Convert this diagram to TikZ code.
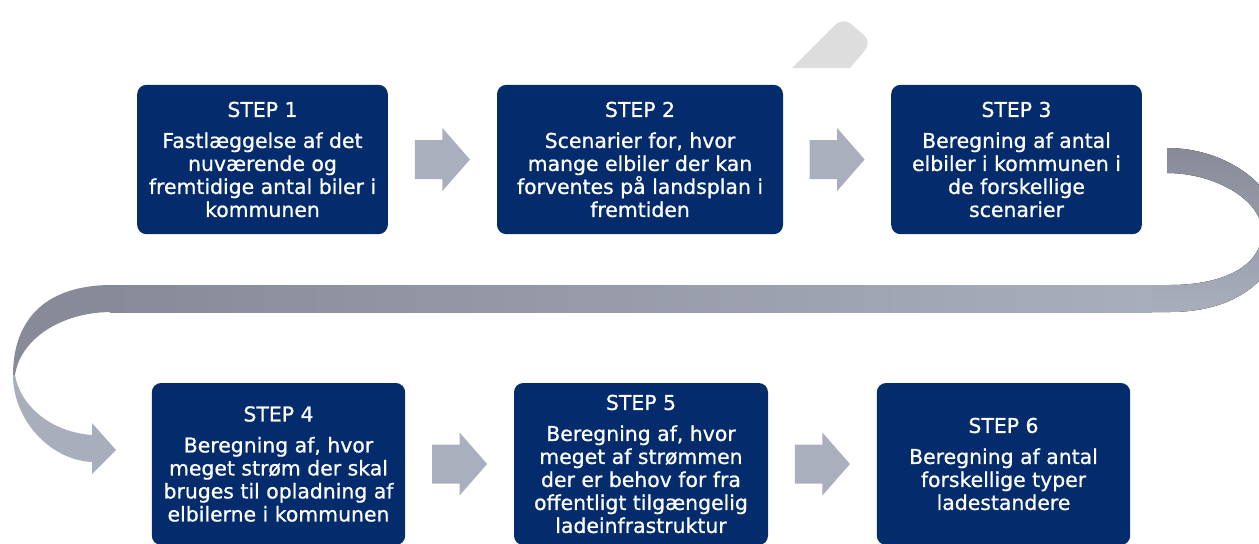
\documentclass[tikz,border=0pt]{standalone}
\usepackage{fontspec}
\setmainfont{DejaVu Sans}
\newfontfamily\stepfont{DejaVu Sans}[FakeBold=0.8]
\usetikzlibrary{calc}

\definecolor{stepblue}{RGB}{4,43,108}
\definecolor{arrowgrey}{RGB}{170,175,189}
\definecolor{ribbondark}{RGB}{136,139,151}
\definecolor{ribbonlight}{RGB}{169,174,189}
\definecolor{cutgrey}{RGB}{221,221,221}

\begin{document}
\begin{tikzpicture}[x={(0.75pt,0)}, y={(0,-0.75pt)},
    stepbox/.style={fill=stepblue, rounded corners=7pt, text=white, align=center,
        inner sep=0pt, font=\stepfont\fontsize{15.3}{17.25}\selectfont},
    blockarrow/.pic={\fill[arrowgrey] (-27.5,-19.5) -- (0,-19.5) -- (0,-31.5) -- (27.5,0)
        -- (0,31.5) -- (0,19.5) -- (-27.5,19.5) -- cycle;}]
        \clip (0,0) rectangle (1259,543);

        % Grey piece at the top
        \fill[cutgrey] (792,68) [rounded corners=8pt] -- (843,17) -- (872,42) [sharp corners] -- (850,68) -- cycle;

        % Top row
        \node[stepbox, minimum width=188pt, minimum height=112pt] (s1) at (262.5,159.5)
            {STEP 1\\[6pt]Fastlæggelse af det\\nuværende og\\fremtidige antal biler i\\kommunen};
        \node[stepbox, minimum width=214.5pt, minimum height=112pt] (s2) at (640,159.5)
            {STEP 2\\[6pt]Scenarier for, hvor\\mange elbiler der kan\\forventes på landsplan i\\fremtiden};
        \node[stepbox, minimum width=188pt, minimum height=112pt] (s3) at (1016.5,159.5)
            {STEP 3\\[6pt]Beregning af antal\\elbiler i kommunen i\\de forskellige\\scenarier};

        % Bottom row
        \node[stepbox, minimum width=190pt, minimum height=121.5pt] (s4) at (278.5,464)
            {STEP 4\\[6pt]Beregning af, hvor\\meget strøm der skal\\bruges til opladning af\\elbilerne i kommunen};
        \node[stepbox, minimum width=190.5pt, minimum height=121.5pt] (s5) at (641,464)
            {STEP 5\\[6pt]Beregning af, hvor\\meget af strømmen\\der er behov for fra\\offentligt tilgængelig\\ladeinfrastruktur};
        \node[stepbox, minimum width=190pt, minimum height=121.5pt] (s6) at (1003.5,464)
            {STEP 6\\[6pt]Beregning af antal\\forskellige typer\\ladestandere};

        % Arrows between the steps
        \pic at ($(s1.east)!0.5!(s2.west)$) {blockarrow};
        \pic at ($(s2.east)!0.5!(s3.west)$) {blockarrow};
        \pic at ($(s4.east)!0.5!(s5.west)$) {blockarrow};
        \pic at ($(s5.east)!0.5!(s6.west)$) {blockarrow};

        % Ribbon from step 3 round to step 4
        \fill[top color=ribbondark, bottom color=ribbonlight] (1167,148)
            .. controls (1230,148) and (1280,190) .. (1280,230)
            .. controls (1280,275) and (1240,312) .. (1170,312) -- (1150,312) -- (1150,285) -- (1170,285)
            .. controls (1225,285) and (1262,265) .. (1262,232)
            .. controls (1262,200) and (1215,173) .. (1167,173) -- cycle;
        \fill[left color=ribbondark, right color=ribbonlight] (110,285) rectangle (1152,312);
        \fill[ribbondark] (112,285) .. controls (40,285) and (13,325) .. (13,375)
            -- (15,375) .. controls (20,340) and (60,312) .. (112,312) -- cycle;
        \fill[ribbonlight] (13,375) .. controls (13,420) and (50,460) .. (92,462)
            -- (92,474) -- (116,450) -- (92,423) -- (92,435)
            .. controls (50,432) and (20,405) .. (15,375) -- cycle;
    \end{tikzpicture}
\end{document}
